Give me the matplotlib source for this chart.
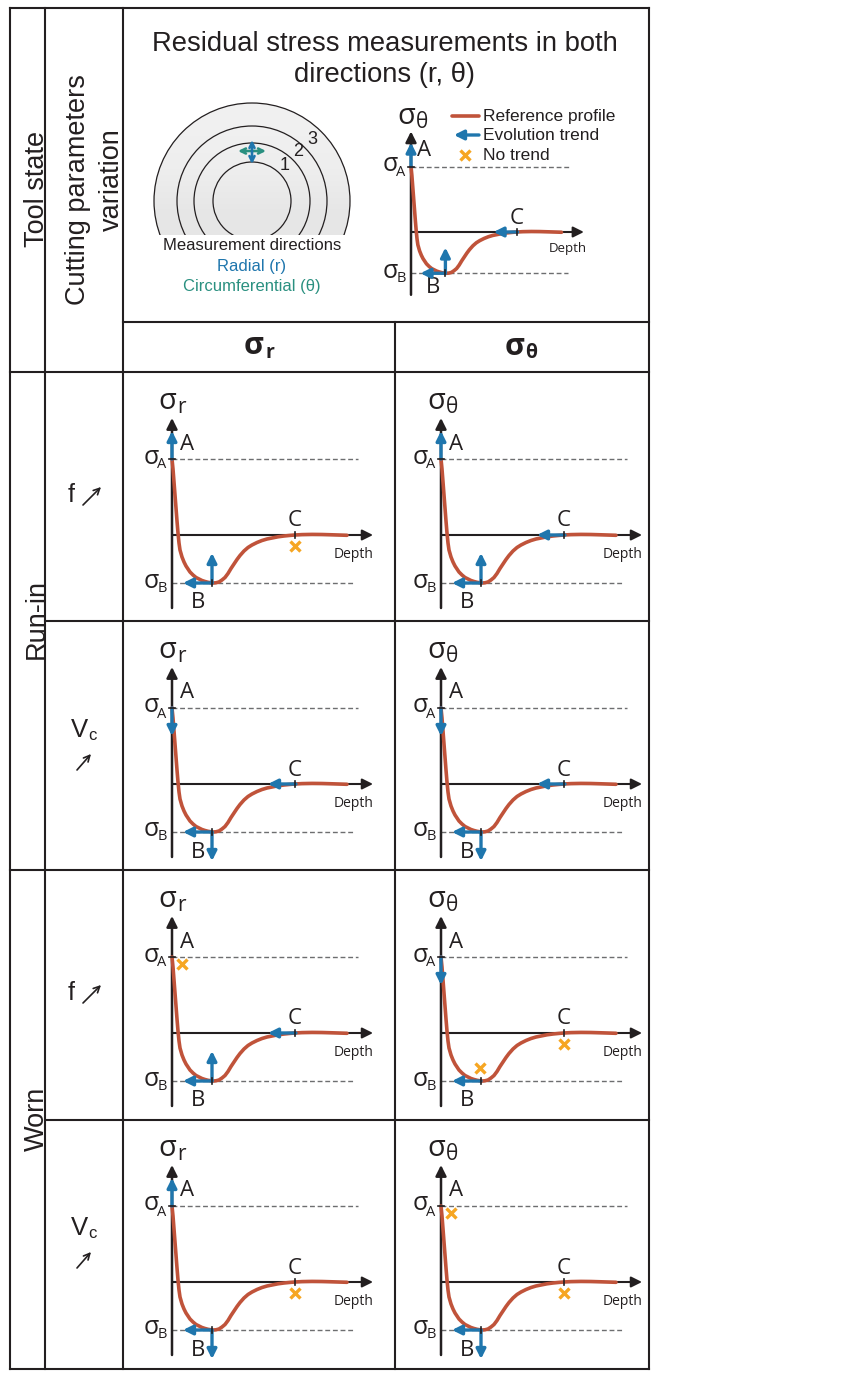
# -*- coding: utf-8 -*-
import numpy as np
import matplotlib
matplotlib.use("Agg")
import matplotlib.pyplot as plt
from matplotlib.patches import Circle, FancyArrowPatch

# reference profile (depth, stress) in px from the axes origin
depth_pts = [0, 1, 2, 3, 4, 5, 6, 7, 8, 10, 12, 14, 16, 18, 21, 24, 27, 30, 33, 36, 39, 41,
             44, 47, 50, 53, 56, 59, 62, 65, 68, 72, 76, 80, 85, 90, 95, 100, 106, 112,
             118, 123, 130, 140, 150, 160, 175]
stress_pts = [76, 66, 53, 40, 27, 14, 2, -8, -15, -22, -27, -31, -34, -37, -40, -42.5, -44,
              -45.5, -46.5, -47.3, -47.8, -48, -47.8, -47, -45, -42.5, -38.5, -33.5, -29,
              -24.5, -20.5, -16, -12.5, -10, -7.5, -5.5, -4, -3, -1.8, -1, -0.4, 0, 0.4,
              0.6, 0.5, 0.2, -0.3]
sigma_a = 76
sigma_b = -48
depth_b = 40
depth_c = 123

# trend per panel, rows are Run-in f, Run-in Vc, Worn f, Worn Vc, columns are r, theta
trend_a = [["up", "up"], ["down", "down"], ["x", "down"], ["up", "x"]]
trend_b = [["up", "up"], ["down", "down"], ["up", "x"], ["down", "down"]]
trend_c = [["x", "left"], ["left", "left"], ["left", "x"], ["x", "x"]]
col_subs = ["r", "θ"]
col_x = [172, 441]
row_y = [535, 784, 1033, 1282]

BLUE = "#1f76ad"
RED = "#c0533a"
ORANGE = "#f6a623"
TEAL = "#2a9080"
DARK = "#231f20"
GREY = "#6d6e70"
SANS = ["Liberation Sans", "DejaVu Sans"]
OPEN = ["Open Sans", "DejaVu Sans"]

fig = plt.figure(figsize=(8.61, 13.77), dpi=100)
ax = fig.add_axes([0, 0, 1, 1])
ax.set_xlim(0, 861)
ax.set_ylim(1377, 0)
ax.axis("off")


def arrow(x0, y0, x1, y1, color=BLUE, lw=2.4, scale=14, style="-|>", z=5):
    ax.add_patch(FancyArrowPatch((x0, y0), (x1, y1), arrowstyle=style, color=color, lw=lw,
                                 mutation_scale=scale, shrinkA=0, shrinkB=0, zorder=z))


def txt(x, y, s, size, family=SANS, color=DARK, **kw):
    ax.text(x, y, s, fontsize=size, family=family, color=color, ha=kw.pop("ha", "center"),
            va=kw.pop("va", "center"), **kw)


def cross(x, y):
    ax.plot([x], [y], marker="x", ms=7.5, mew=2.4, color=ORANGE, ls="", zorder=6)


def panel(x0, y0, sub, ta, tb, tc, k=1.0, lab_y=(91, -68, 14), depth_size=10):
    px = lambda v: x0 + v * k
    py = lambda v: y0 - v * k
    # axes
    arrow(x0, py(-73), x0, py(117), color=DARK, lw=1.8, scale=16, z=2)
    arrow(x0, y0, px(201), y0, color=DARK, lw=1.5, scale=16, z=2)
    ax.plot([x0, px(186)], [py(sigma_a)] * 2, color=GREY, lw=1, ls=(0, (3.5, 2)), zorder=1)
    ax.plot([x0, px(183)], [py(sigma_b)] * 2, color=GREY, lw=1, ls=(0, (3.5, 2)), zorder=1)
    ax.plot(px(np.array(depth_pts)), py(np.array(stress_pts)), color=RED, lw=2.6, zorder=3,
            solid_capstyle="round", solid_joinstyle="round")
    # ticks on A, B, C
    ax.plot([x0 - 3, x0 + 3], [py(sigma_a)] * 2, color=DARK, lw=1.2, zorder=6)
    ax.plot([px(depth_b)] * 2, [py(sigma_b) - 3, py(sigma_b) + 3], color=DARK, lw=1.2, zorder=6)
    ax.plot([px(depth_c)] * 2, [y0 - 3, y0 + 3], color=DARK, lw=1.2, zorder=6)
    # texts
    txt(x0 - 5, py(127) + 1, "σ", 21, OPEN, va="baseline")
    txt(x0 + 5, py(127) + 5, sub, 15, OPEN, va="baseline", ha="left")
    txt(px(15), py(lab_y[0]), "A", 16, OPEN)
    txt(x0 - 21, py(sigma_a) - 2, "σ", 18, OPEN)
    txt(x0 - 10, py(sigma_a) + 6, "A", 10.5, OPEN)
    txt(x0 - 21, py(sigma_b) - 2, "σ", 18, OPEN)
    txt(x0 - 10, py(sigma_b) + 5, "B", 10.5, OPEN)
    txt(px(26), py(lab_y[1]), "B", 16, OPEN)
    txt(px(123), py(lab_y[2]), "C", 16, OPEN)
    txt(px(182), py(-19.5), "Depth", depth_size, OPEN)
    # trends
    if ta == "up":
        arrow(x0, py(sigma_a), x0, py(sigma_a + 28))
    elif ta == "down":
        arrow(x0, py(sigma_a), x0, py(sigma_a - 28))
    else:
        cross(px(10), py(sigma_a - 7))
    arrow(px(depth_b), py(sigma_b), px(depth_b - 29), py(sigma_b))
    if tb == "up":
        arrow(px(depth_b), py(sigma_b), px(depth_b), py(sigma_b + 30))
    elif tb == "down":
        arrow(px(depth_b), py(sigma_b), px(depth_b), py(sigma_b - 29))
    else:
        cross(px(depth_b - 1), py(sigma_b + 13))
    if tc == "left":
        arrow(px(depth_c + 1), y0, px(depth_c - 27), y0)
    else:
        cross(px(depth_c), py(-11))


# table lines
for x, y0, y1 in [(10, 8, 1369), (45, 8, 1369), (123, 8, 1369), (395, 322, 1369), (649, 8, 1369)]:
    ax.plot([x, x], [y0, y1], color=DARK, lw=1.5, solid_capstyle="projecting", zorder=7)
for y, x0, x1 in [(8, 10, 649), (322, 123, 649), (372, 10, 649), (621, 45, 649),
                  (870, 10, 649), (1120, 45, 649), (1369, 10, 649)]:
    ax.plot([x0, x1], [y, y], color=DARK, lw=1.5, solid_capstyle="projecting", zorder=7)

# left column texts
txt(37, 189, "Tool state", 19.5, rotation=90)
txt(78, 190, "Cutting parameters", 19.5, rotation=90)
txt(112, 180, "variation", 19.5, rotation=90)
txt(37, 619, "Run-in", 19.5, rotation=90)
txt(37, 1119, "Worn", 19.5, rotation=90)

# parameter labels
for i, y in enumerate(row_y):
    if i % 2 == 0:
        txt(71, y - 40, "f", 18)
        arrow(83, y - 30, 101, y - 48, color=DARK, lw=1.2, scale=11, style="->")
    else:
        txt(79, y - 54, "V", 18.5)
        txt(92, y - 48, "c", 12)
        arrow(77, y - 14, 91, y - 30, color=DARK, lw=1.2, scale=11, style="->")

# header
txt(385, 44, "Residual stress measurements in both", 19.7)
txt(385, 75, "directions (r, θ)", 19.7)
txt(254, 346, "σ", 22, weight="bold", family=OPEN)
txt(270, 353, "r", 14, weight="bold", family=OPEN)
txt(515, 347, "σ", 22, weight="bold", family=OPEN)
txt(531, 353, "θ", 14, weight="bold", family=OPEN)

# semicircles
clip = Circle((252, 201), 98, transform=ax.transData)
grad = ax.imshow(np.array([[0.94], [0.93], [0.90]]), extent=(154, 350, 235, 103), cmap="gray",
                 vmin=0, vmax=1, aspect="auto", zorder=1, interpolation="bilinear")
grad.set_clip_path(clip)
ax.set_xlim(0, 861)
ax.set_ylim(1377, 0)
for r in [98, 75, 58, 39]:
    c = Circle((252, 201), r, fill=False, ec=DARK, lw=0.9, zorder=2)
    ax.add_patch(c)
    rect = plt.Rectangle((140, 100), 230, 135, transform=ax.transData)
    c.set_clip_path(rect)
txt(285, 166, "1", 13)
txt(298, 152, "2", 13)
txt(312, 139, "3", 13)
arrow(238, 151, 266, 151, color=TEAL, lw=1.9, scale=9, style="<->")
arrow(252, 140, 252, 164, color=BLUE, lw=1.9, scale=9, style="<->")
txt(252, 246, "Measurement directions", 12)
txt(252, 266, "Radial (r)", 12, color=BLUE)
txt(252, 286, "Circumferential (θ)", 12, color=TEAL)

# header chart and legend
panel(411, 232, "θ", "up", "up", "left", k=0.86, lab_y=(95, -64, 16), depth_size=9.5)
ax.plot([452, 479], [116, 116], color=RED, lw=2.6, solid_capstyle="round")
arrow(479, 135, 454, 135)
cross(465, 155)
txt(483, 116, "Reference profile", 12.5, ha="left")
txt(483, 135, "Evolution trend", 12.5, ha="left")
txt(483, 155, "No trend", 12.5, ha="left")

# grid of panels
for i, y in enumerate(row_y):
    for j, x in enumerate(col_x):
        panel(x, y, col_subs[j], trend_a[i][j], trend_b[i][j], trend_c[i][j])

fig.savefig("out.png", dpi=100)
